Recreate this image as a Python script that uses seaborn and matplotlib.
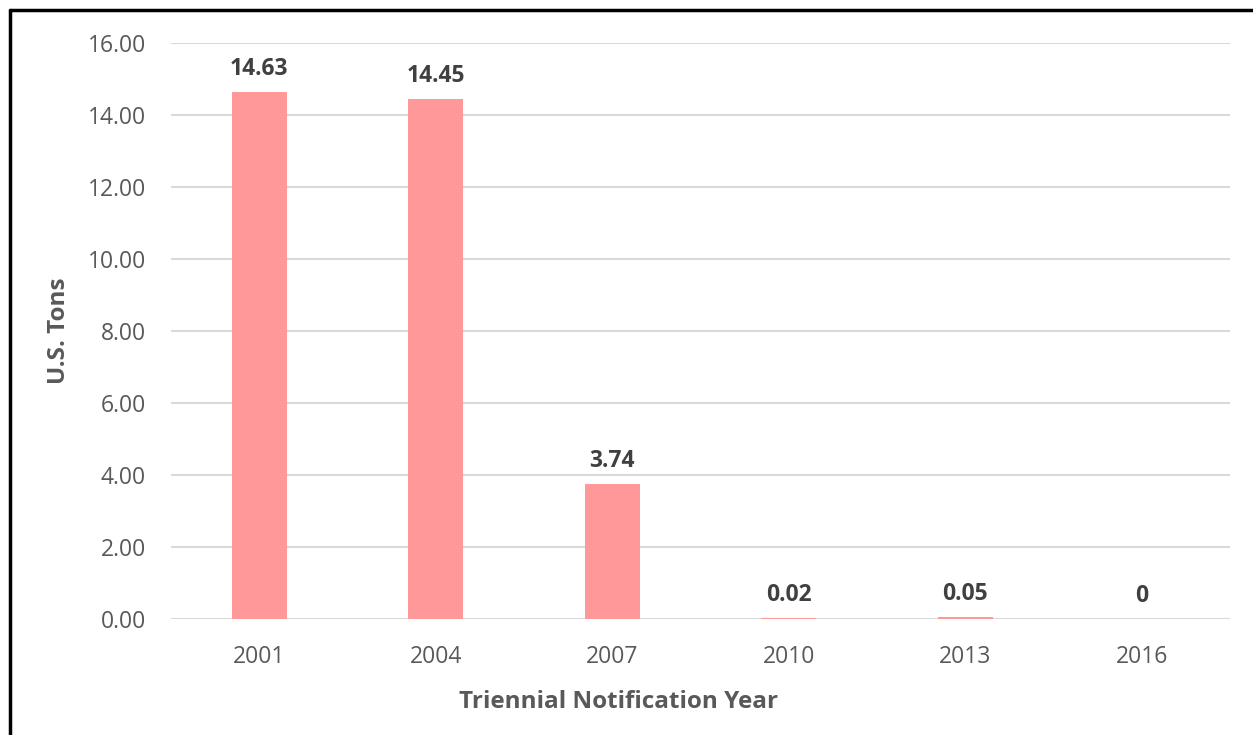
import matplotlib
matplotlib.use("Agg")
import matplotlib.pyplot as plt
import seaborn as sns
import pandas as pd
from matplotlib.lines import Line2D

years = ["2001", "2004", "2007", "2010", "2013", "2016"]
tons = [14.63, 14.45, 3.74, 0.02, 0.05, 0.0]
value_labels = ["14.63", "14.45", "3.74", "0.02", "0.05", "0"]
yticks = [0, 2, 4, 6, 8, 10, 12, 14, 16]

sns.set_theme(style="white")
plt.rcParams["font.family"] = ["Open Sans", "DejaVu Sans"]

df = pd.DataFrame({"year": years, "tons": tons})

fig = plt.figure(figsize=(12.53, 7.35), dpi=100)
ax = fig.add_axes([0.1365, 0.1578, 0.8452, 0.7837])

sns.barplot(data=df, x="year", y="tons", color="#FF9999", saturation=1,
            width=0.31, linewidth=0, ax=ax)

ax.set_xlim(-0.5, 5.5)
ax.set_ylim(0, 16)
ax.set_yticks(yticks)
ax.set_yticklabels([f"{v:.2f}" for v in yticks])
ax.yaxis.grid(True, color="#D9D9D9", linewidth=1.5)
ax.set_axisbelow(True)
for s in ax.spines.values():
    s.set_visible(False)
ax.tick_params(axis="both", length=0, labelsize=16.5, labelcolor="#595959")
ax.tick_params(axis="y", pad=18)
ax.tick_params(axis="x", pad=19)

for i, (v, lab) in enumerate(zip(tons, value_labels)):
    ax.annotate(lab, (i, v), xytext=(0, 8), textcoords="offset points",
                ha="center", va="bottom", fontsize=16.5, fontweight="bold",
                color="#404040")

ax.set_xlabel("Triennial Notification Year", fontsize=17.5, fontweight="bold",
              color="#595959", labelpad=15)
ax.xaxis.label.set_x(0.423)
ax.set_ylabel("U.S. Tons", fontsize=17.5, fontweight="bold", color="#595959",
              labelpad=12)

# outer frame (left and top visible)
fig.add_artist(Line2D([9.5/1253, 9.5/1253], [0, 1 - 9.5/735], transform=fig.transFigure,
                      color="black", linewidth=2.5))
fig.add_artist(Line2D([9.5/1253, 1.0], [1 - 9.5/735, 1 - 9.5/735], transform=fig.transFigure,
                      color="black", linewidth=2.5))

fig.savefig("out.png", dpi=100, facecolor="white")
